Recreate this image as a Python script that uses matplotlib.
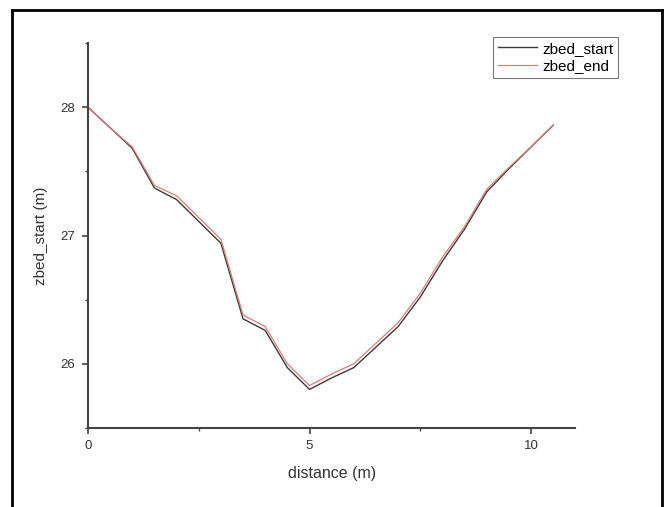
import numpy as np
import matplotlib
matplotlib.use("Agg")
import matplotlib.pyplot as plt
from matplotlib.ticker import MultipleLocator
from matplotlib.lines import Line2D

plt.rcParams['font.family'] = ['Liberation Sans', 'DejaVu Sans']

distance = [0, 0.5, 1.0, 1.5, 2.0, 2.5, 3.0, 3.5, 4.0, 4.5, 5.0,
            5.5, 6.0, 6.5, 7.0, 7.5, 8.0, 8.5, 9.0, 9.5, 10.0, 10.5]
zbed_start = [28.00, 27.84, 27.68, 27.37, 27.28, 27.11, 26.94, 26.35, 26.26, 25.97, 25.80,
              25.89, 25.97, 26.13, 26.29, 26.52, 26.80, 27.05, 27.34, 27.52, 27.69, 27.86]
zbed_end = [28.00, 27.84, 27.69, 27.39, 27.31, 27.14, 26.97, 26.38, 26.29, 26.00, 25.83,
            25.92, 26.00, 26.16, 26.32, 26.55, 26.83, 27.07, 27.36, 27.53, 27.69, 27.86]

fig = plt.figure(figsize=(6.69, 5.07), dpi=100)
ax = fig.add_axes([0.1315, 0.156, 0.7285, 0.759])

ax.plot(distance, zbed_start, color="#3a3a3a", lw=1.0, label="zbed_start")
ax.plot(distance, zbed_end, color="#e07878", lw=0.9, label="zbed_end")

ax.set_xlim(0, 11)
ax.set_ylim(25.5, 28.5)
ax.xaxis.set_major_locator(MultipleLocator(5))
ax.xaxis.set_minor_locator(MultipleLocator(2.5))
ax.yaxis.set_major_locator(MultipleLocator(1))
ax.yaxis.set_minor_locator(MultipleLocator(0.5))

for s in ["top", "right"]:
    ax.spines[s].set_visible(False)
for s in ["left", "bottom"]:
    ax.spines[s].set_color("#444444")
    ax.spines[s].set_linewidth(1.5)

ax.tick_params(which="major", direction="out", length=4, width=1.2,
               color="#444444", labelsize=9.5, labelcolor="#333333", pad=5)
ax.tick_params(which="minor", direction="out", length=2.5, width=1.0, color="#444444")

ax.set_xlabel("distance (m)", fontsize=11.5, color="#333333", labelpad=10)
ax.set_ylabel("zbed_start (m)", fontsize=11, color="#333333", labelpad=9)

leg = ax.legend(loc="upper right", bbox_to_anchor=(1.087, 1.016), fontsize=11,
                fancybox=False, framealpha=1, edgecolor="#777777",
                handlelength=2.6, handletextpad=0.3, borderpad=0.3,
                labelspacing=0.25, borderaxespad=0)
leg.get_frame().set_linewidth(0.8)

# border around the picture (left, top, right)
bc = "black"
fig.add_artist(Line2D([0.018, 0.018], [0, 0.98], transform=fig.transFigure, color=bc, lw=2))
fig.add_artist(Line2D([0.018, 0.989], [0.98, 0.98], transform=fig.transFigure, color=bc, lw=2))
fig.add_artist(Line2D([0.989, 0.989], [0, 0.98], transform=fig.transFigure, color=bc, lw=2))

fig.savefig("out.png", dpi=100)
